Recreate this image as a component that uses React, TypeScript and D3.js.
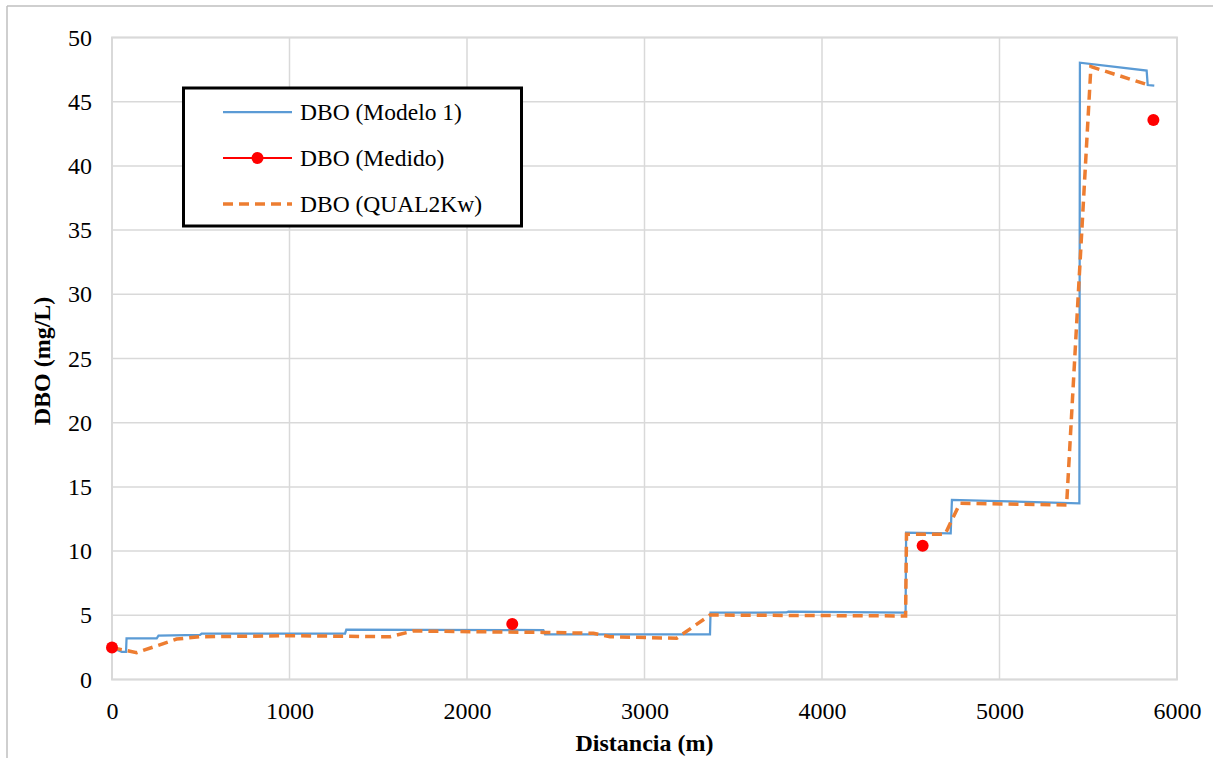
import React, { useEffect, useRef } from "react";
import * as d3 from "d3";

// DBO (Modelo 1) - step profile
const distModelo = [0, 55, 79, 82, 252, 262, 496, 505, 1313, 1320, 2430, 2440, 3369, 3372, 3800, 3810, 4471, 4474, 4725, 4732, 5450, 5453, 5829, 5835, 5872];
const dboModelo = [2.48, 2.15, 2.15, 3.21, 3.21, 3.42, 3.47, 3.57, 3.57, 3.88, 3.85, 3.52, 3.52, 5.2, 5.22, 5.28, 5.2, 11.43, 11.39, 13.98, 13.72, 48.04, 47.42, 46.3, 46.25];

// DBO (Medido)
const distMedido = [0, 2255, 4567, 5867];
const dboMedido = [2.5, 4.32, 10.42, 43.57];

// DBO (QUAL2Kw)
const distQual = [0, 139, 364, 496, 1003, 1566, 1697, 2186, 2430, 2712, 2806, 3181, 3369, 4471, 4476, 4693, 4777, 5378, 5515, 5839];
const dboQual = [2.48, 2.09, 3.15, 3.33, 3.41, 3.33, 3.78, 3.7, 3.67, 3.6, 3.33, 3.21, 5.02, 4.95, 11.31, 11.31, 13.72, 13.59, 47.73, 46.3];

const xTicks = [0, 1000, 2000, 3000, 4000, 5000, 6000];
const yTicks = [0, 5, 10, 15, 20, 25, 30, 35, 40, 45, 50];

const legendLabels = ["DBO (Modelo 1)", "DBO (Medido)", "DBO (QUAL2Kw)"];

const App = () => {
  const ref = useRef<SVGSVGElement | null>(null);
  const tWidth = 1213;
  const tHeight = 758;
  const margin = { top: 37.5, right: 36, bottom: 78.5, left: 112 };
  const width = tWidth - margin.left - margin.right;
  const height = tHeight - margin.top - margin.bottom;
  const font = "'Liberation Serif', 'Times New Roman', serif";

  useEffect(() => {
    const root = d3.select(ref.current);
    root.selectAll("*").remove();
    root.style("font-family", font);

    // outer frame
    root.append("line").attr("x1", 7).attr("x2", 7).attr("y1", 6).attr("y2", tHeight)
      .attr("stroke", "#bfbfbf").attr("stroke-width", 1.5);
    root.append("line").attr("x1", 7).attr("x2", tWidth).attr("y1", 6).attr("y2", 6)
      .attr("stroke", "#bfbfbf").attr("stroke-width", 1.5);

    const svg = root.append("g").attr("transform", `translate(${margin.left}, ${margin.top})`);

    const x = d3.scaleLinear().domain([0, 6000]).range([0, width]);
    const y = d3.scaleLinear().domain([0, 50]).range([height, 0]);

    // grid
    svg.selectAll(".vgrid").data(xTicks).join("line")
      .attr("x1", (d) => x(d)).attr("x2", (d) => x(d))
      .attr("y1", 0).attr("y2", height)
      .attr("stroke", "#d9d9d9").attr("stroke-width", 1.5);
    svg.selectAll(".hgrid").data(yTicks).join("line")
      .attr("x1", 0).attr("x2", width)
      .attr("y1", (d) => y(d)).attr("y2", (d) => y(d))
      .attr("stroke", "#d9d9d9").attr("stroke-width", 1.5);
    svg.append("rect").attr("width", width).attr("height", height)
      .attr("fill", "none").attr("stroke", "#d9d9d9").attr("stroke-width", 2);

    // axes
    const xAxis = svg.append("g").attr("transform", `translate(0, ${height})`)
      .call(d3.axisBottom(x).tickValues(xTicks).tickSize(0).tickPadding(22).tickFormat(d3.format("d")));
    const yAxis = svg.append("g")
      .call(d3.axisLeft(y).tickValues(yTicks).tickSize(0).tickPadding(20).tickFormat(d3.format("d")));
    [xAxis, yAxis].forEach((a) => {
      a.attr("font-family", null).attr("font-size", null);
      a.select(".domain").remove();
      a.selectAll("text").style("font-family", font).style("font-size", "24px").attr("fill", "#000");
    });

    const line = d3.line<[number, number]>().x((d) => x(d[0])).y((d) => y(d[1]));

    svg.append("path")
      .datum(distModelo.map((d, i) => [d, dboModelo[i]] as [number, number]))
      .attr("d", line).attr("fill", "none").attr("stroke", "#5B9BD5").attr("stroke-width", 2.25);

    svg.append("path")
      .datum(distQual.map((d, i) => [d, dboQual[i]] as [number, number]))
      .attr("d", line).attr("fill", "none").attr("stroke", "#ED7D31")
      .attr("stroke-width", 3.5).attr("stroke-dasharray", "10,6");

    svg.selectAll(".medido").data(distMedido).join("circle")
      .attr("cx", (d) => x(d)).attr("cy", (d, i) => y(dboMedido[i]))
      .attr("r", 6).attr("fill", "#FF0000");

    // axis titles
    root.append("text").attr("x", margin.left + width / 2).attr("y", 751)
      .attr("text-anchor", "middle").style("font-family", font).attr("font-weight", "bold")
      .style("font-size", "24px").text("Distancia (m)");
    root.append("text").attr("transform", "translate(50, 361) rotate(-90)")
      .attr("text-anchor", "middle").style("font-family", font).attr("font-weight", "bold")
      .style("font-size", "24px").text("DBO (mg/L)");

    // legend
    const lg = root.append("g");
    lg.append("rect").attr("x", 183.5).attr("y", 88).attr("width", 338).attr("height", 138)
      .attr("fill", "#fff").attr("stroke", "#000").attr("stroke-width", 3);
    const rows = [112, 158, 204];
    rows.forEach((ry, i) => {
      const ln = lg.append("line").attr("x1", 223).attr("x2", 292).attr("y1", ry).attr("y2", ry);
      if (i === 0) ln.attr("stroke", "#5B9BD5").attr("stroke-width", 2.25);
      if (i === 1) {
        ln.attr("stroke", "#FF0000").attr("stroke-width", 2);
        lg.append("circle").attr("cx", 257.5).attr("cy", ry).attr("r", 6).attr("fill", "#FF0000");
      }
      if (i === 2) ln.attr("stroke", "#ED7D31").attr("stroke-width", 3.5).attr("stroke-dasharray", "10,6");
      lg.append("text").attr("x", 300).attr("y", ry).attr("dy", "0.35em")
        .style("font-family", font).style("font-size", "23.5px").text(legendLabels[i]);
    });
  }, []);

  return (
    <svg ref={ref} width={tWidth} height={tHeight}
      style={{ position: "absolute", left: 0, top: 0, background: "#fff" }}></svg>
  );
};

export default App;
